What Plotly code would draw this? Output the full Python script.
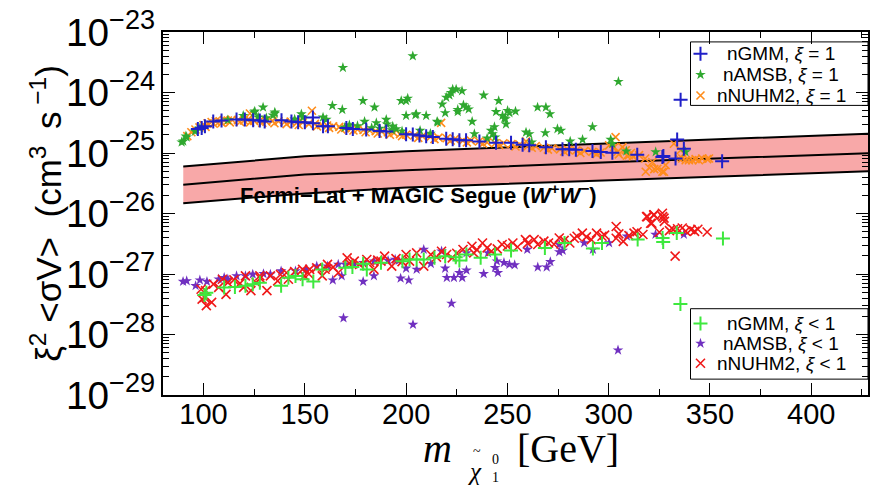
import plotly.graph_objects as go

# ---------------- data ----------------
# Fermi-LAT + MAGIC Segue (W+W-) limit band
band_m = [90, 150, 200, 300, 430]
band_hi = [6.0e-26, 8.8e-26, 1.07e-25, 1.45e-25, 2.1e-25]
band_mid = [3.0e-26, 4.4e-26, 5.2e-26, 7.0e-26, 1.0e-25]
band_lo = [1.48e-26, 2.15e-26, 2.7e-26, 3.5e-26, 5.0e-26]

# nGMM, xi = 1
gmm1_m = [97.2, 99.1, 100.7, 104.8, 108.9, 116.3, 120.4, 124.5, 127.8, 130.2, 138.5, 143.4,
          146.7, 150.0, 154.0, 154.0, 159.0, 161.4, 170.5, 173.7, 180.3, 186.9, 190.2, 200.0,
          203.3, 206.6, 209.9, 213.2, 219.8, 223.0, 226.3, 229.6, 236.2, 244.4, 251.8, 257.5,
          260.8, 269.0, 277.2, 280.5, 283.8, 292.0, 296.1, 301.8, 314.1, 326.5, 333.0, 333.8,
          337.1, 356.0, 335.5, 327.0]
gmm1_sv = [2.5e-25, 2.6e-25, 2.77e-25, 3.31e-25, 3.44e-25, 3.57e-25, 3.57e-25, 3.48e-25, 3.44e-25,
           3.31e-25, 3.48e-25, 3.31e-25, 3.22e-25, 3.22e-25, 3.85e-25, 3.10e-25, 2.77e-25, 2.77e-25,
           2.6e-25, 2.5e-25, 2.45e-25, 2.3e-25, 2.27e-25, 2.05e-25, 2.02e-25, 1.95e-25, 1.9e-25,
           1.83e-25, 1.72e-25, 1.68e-25, 1.63e-25, 1.62e-25, 1.55e-25, 1.48e-25, 1.48e-25, 1.37e-25,
           1.34e-25, 1.25e-25, 1.15e-25, 1.15e-25, 1.13e-25, 1.08e-25, 1.04e-25, 1.01e-25, 9.4e-26,
           8.6e-26, 8.1e-26, 1.67e-25, 1.18e-25, 7.3e-26, 7.6e-25, 8.9e-26]

# nAMSB, xi = 1
amsb1_m = [89.2, 90.0, 91.3, 91.7, 95.8, 98.2, 119.6, 125.0, 129.4, 134.3, 135.2, 148.3, 149.1,
           159.0, 160.6, 163.6, 168.5, 168.8, 169.7, 178.7, 179.5, 184.4, 185.3, 190.2, 190.5,
           193.4, 195.1, 197.6, 200.0, 200.8, 203.3, 200.0, 205.0, 209.9, 206.9, 204.6, 215.3,
           215.6, 217.8, 219.3, 219.8, 221.4, 222.2, 223.0, 224.7, 227.6, 225.5, 228.3, 229.6,
           230.9, 225.5, 232.6, 233.7, 238.3, 245.7, 244.4, 243.6, 242.7, 248.5, 250.1, 247.6,
           249.0, 251.0, 254.0, 249.3, 241.9, 244.0, 259.2, 260.8, 264.9, 269.0, 271.0, 268.7,
           274.7, 276.4, 281.0, 287.1, 292.0, 301.0, 301.8, 304.8, 308.7, 323.2, 337.9,
           112.0, 127.0, 131.0, 145.0, 172.0, 176.0, 183.0, 187.0, 193.0, 198.0, 212.0, 240.0,
           262.0, 125.3, 135.2]
amsb1_sv = [1.51e-25, 1.56e-25, 1.9e-25, 1.83e-25, 2.27e-25, 2.57e-25, 4.15e-25, 4.7e-25, 5.7e-25,
            4.2e-25, 4.5e-25, 4.4e-25, 3.89e-25, 3.89e-25, 3.57e-25, 6.05e-25, 5.2e-25, 2.57e-24,
            2.63e-25, 7.3e-25, 3.31e-25, 5.7e-25, 3.14e-25, 3.57e-25, 3.0e-25, 2.77e-25, 2.5e-25,
            7.3e-25, 7.3e-25, 8.0e-25, 4.0e-24, 4.15e-25, 4.4e-25, 4.15e-25, 2.35e-25, 4.25e-25,
            3.31e-25, 3.22e-25, 6.4e-25, 4.6e-25, 8.3e-25, 9.0e-25, 9.9e-25, 1.13e-24, 1.13e-24,
            1.06e-24, 5.2e-25, 6.2e-25, 5.7e-25, 5.3e-25, 4.8e-25, 3.31e-25, 2.07e-25, 9.0e-25,
            7.3e-25, 4.8e-25, 2.7e-25, 2.07e-25, 3.75e-25, 5.0e-25, 4.15e-25, 3.66e-25, 4.6e-25,
            4.9e-25, 3.0e-25, 2.35e-25, 1.83e-25, 2.2e-25, 2.07e-25, 5.7e-25, 5.7e-25, 4.4e-25,
            2.15e-25, 2.5e-25, 2.35e-25, 1.56e-25, 1.67e-25, 2.7e-25, 1.67e-25, 1.42e-25, 1.51e-24,
            1.07e-25, 1.04e-25, 1.04e-25,
            3.5e-25, 3.9e-25, 3.8e-25, 3.6e-25, 2.9e-25, 2.8e-25, 2.6e-25, 2.55e-25, 2.4e-25,
            2.3e-25, 2.1e-25, 1.75e-25, 1.5e-25, 4.9e-25, 4.7e-25]

# nNUHM2, xi = 1
nuhm1_m = [92, 94, 96, 98, 100, 102, 104, 106, 108, 110, 112, 114, 117, 120, 122, 122.9, 125, 128,
           131, 134, 137, 140, 143, 146, 149, 152, 153.5, 155, 158, 161, 164, 167, 170, 173, 176,
           179, 182, 185, 188, 191, 194, 197, 200, 204, 208, 212, 216, 217.3, 220, 224, 228, 232,
           236, 240, 244, 248, 252, 256, 259.2, 260, 264, 268, 272, 276, 280, 284, 288, 292, 296,
           300.2, 302.7, 303.4, 304.3, 306.8, 308.4, 318.3, 320, 321.5, 322.5, 324, 326.5, 327.3,
           328.1, 332.2, 334.7, 335.5, 336.3, 338, 339.6, 341.3, 342.9, 344.5, 346.2, 348.6, 349.5,
           101, 105, 109, 113, 118, 123, 129, 135, 141, 147, 156, 162, 168, 174, 180, 186, 192,
           198, 206, 214, 222, 230, 238, 246, 254, 262, 270, 278, 286, 294, 318, 310, 305, 309,
           312, 315, 311]
nuhm1_sv = [1.9e-25, 2.2e-25, 2.45e-25, 2.65e-25, 2.9e-25, 3.1e-25, 3.25e-25, 3.35e-25, 3.35e-25,
            3.5e-25, 3.45e-25, 3.55e-25, 3.5e-25, 3.45e-25, 3.6e-25, 4.5e-25, 3.4e-25, 3.5e-25,
            3.3e-25, 3.4e-25, 3.35e-25, 3.25e-25, 3.3e-25, 3.15e-25, 3.2e-25, 3.0e-25, 5.0e-25,
            3.05e-25, 2.9e-25, 2.85e-25, 2.75e-25, 2.7e-25, 2.6e-25, 2.55e-25, 2.45e-25, 2.4e-25,
            2.35e-25, 2.3e-25, 2.25e-25, 2.2e-25, 2.15e-25, 2.05e-25, 2.0e-25, 1.95e-25, 1.9e-25,
            1.85e-25, 1.8e-25, 3.14e-25, 1.75e-25, 1.7e-25, 1.6e-25, 1.6e-25, 1.55e-25, 1.5e-25,
            1.45e-25, 1.45e-25, 1.4e-25, 1.38e-25, 1.56e-25, 1.3e-25, 1.3e-25, 1.22e-25, 1.2e-25,
            1.15e-25, 1.12e-25, 1.1e-25, 1.08e-25, 1.05e-25, 1.02e-25, 1.34e-25, 1.25e-25, 1.83e-25,
            1.04e-25, 1.25e-25, 1.11e-25, 4.9e-26, 5.7e-26, 7.1e-26, 5.4e-26, 5.5e-26, 4.9e-26,
            4.9e-26, 6.3e-26, 1.42e-25, 8.1e-26, 1.11e-25, 8.1e-26, 7.6e-26, 7.6e-26, 7.6e-26,
            7.9e-26, 7.6e-26, 8.1e-26, 7.9e-26, 8.1e-26,
            2.7e-25, 3.05e-25, 3.15e-25, 3.2e-25, 3.25e-25, 3.2e-25, 3.15e-25, 3.1e-25, 3.0e-25,
            2.9e-25, 2.75e-25, 2.6e-25, 2.45e-25, 2.35e-25, 2.2e-25, 2.1e-25, 2.0e-25, 1.9e-25,
            1.78e-25, 1.7e-25, 1.6e-25, 1.5e-25, 1.42e-25, 1.35e-25, 1.28e-25, 1.22e-25, 1.14e-25,
            1.06e-25, 1.0e-25, 9.6e-26, 8.1e-26, 9.2e-26, 9.5e-26, 9.0e-26, 8.8e-26, 9.2e-26,
            1.0e-25]

# nGMM, xi < 1
gmm2_m = [100.5, 101.4, 110.2, 115.5, 120.7, 124.3, 127.8, 138.3, 141.9, 145.4, 148.9, 154.2,
          158.6, 170.0, 173.5, 178.8, 180.6, 187.6, 198.2, 201.7, 205.2, 208.7, 214.0, 219.3,
          224.5, 229.8, 226.3, 236.8, 243.9, 251.8, 268.5, 278.2, 292.2, 296.7, 314.3, 326.6,
          326.9, 333.6, 335.4, 356.4]
gmm2_sv = [4.5e-28, 4.9e-28, 6.0e-28, 6.1e-28, 6.4e-28, 6.8e-28, 7.2e-28, 6.4e-28, 8.7e-28,
           9.3e-28, 8.2e-28, 7.5e-28, 1.19e-27, 1.27e-27, 1.3e-27, 1.48e-27, 1.19e-27, 1.54e-27,
           1.63e-27, 1.74e-27, 1.74e-27, 1.74e-27, 1.85e-27, 1.97e-27, 1.9e-27, 2.1e-27, 1.67e-27,
           1.85e-27, 2.1e-27, 2.44e-27, 2.7e-27, 3.26e-27, 2.63e-27, 3.26e-27, 3.7e-27, 3.94e-27,
           3.39e-27, 4.75e-27, 3.19e-28, 3.85e-27]

# nAMSB, xi < 1
amsb2_m = [89.9, 91.7, 96.1, 98.2, 101.7, 107.5, 110.2, 112.0, 116.3, 120.7, 124.3, 129.6, 133.0,
           138.3, 145.4, 150.6, 155.9, 161.2, 166.5, 170.0, 174.4, 178.8, 184.1, 191.1, 194.6,
           196.4, 163.8, 168.2, 178.8, 184.1, 200.0, 197.3, 201.3, 205.2, 212.2, 219.3, 220.1,
           223.6, 227.7, 226.3, 229.8, 222.4, 238.3, 243.9, 244.8, 245.3, 248.3, 251.0, 253.6,
           265.0, 269.4, 271.2, 275.6, 277.3, 169.1, 203.4, 304.6, 208.7, 217.5, 229.8, 240.4,
           259.8, 275.6, 287.9, 300.2, 309.0, 323.1, 337.1, 292.2]
amsb2_sv = [7.5e-28, 7.7e-28, 6.4e-28, 7.9e-28, 7.5e-28, 8.2e-28, 8.7e-28, 8.2e-28, 9.3e-28,
            9.3e-28, 9.9e-28, 1.01e-27, 9.9e-28, 1.12e-27, 1.12e-27, 1.19e-27, 1.35e-27, 1.35e-27,
            1.44e-27, 1.44e-27, 1.44e-27, 1.54e-27, 1.63e-27, 1.67e-27, 1.74e-27, 1.67e-27,
            7.9e-28, 9.3e-28, 7.5e-28, 9.3e-28, 1.24e-27, 8.5e-28, 7.9e-28, 1.19e-27, 1.48e-27,
            1.24e-27, 8.7e-28, 8.7e-28, 8.7e-28, 1.05e-27, 1.15e-27, 3.26e-28, 1.01e-27, 1.27e-27,
            1.63e-27, 1.05e-27, 1.54e-27, 1.44e-27, 1.41e-27, 1.3e-27, 1.3e-27, 1.59e-27, 2.32e-27,
            2.44e-27, 1.87e-28, 1.46e-28, 5.5e-29, 2.54e-27, 2.38e-27, 2.23e-27, 2.23e-27, 2.54e-27,
            3.07e-27, 3.26e-27, 3.26e-27, 4.2e-27, 4.5e-27, 4.5e-27, 2.54e-27]

# nNUHM2, xi < 1
nuhm2_m = [98.8, 100.5, 101.4, 104.0, 99.3, 101.0, 104.9, 107.5, 111.1, 112.0, 119.8, 120.7, 123.4,
           126.0, 131.3, 133.0, 136.6, 140.9, 141.9, 148.9, 149.8, 155.9, 158.6, 161.2, 166.5,
           170.9, 174.4, 177.0, 180.6, 184.1, 189.4, 192.9, 200.0, 205.2, 208.7, 212.2, 217.5,
           222.8, 228.1, 232.5, 237.7, 242.1, 247.4, 252.7, 258.9, 265.0, 270.3, 275.6, 280.8,
           287.0, 291.4, 296.7, 303.7, 307.2, 312.5, 318.7, 322.2, 321.3, 326.6, 327.5, 331.9,
           332.8, 336.3, 340.6, 342.4, 348.6, 316.9, 303.7, 109.3, 127.8, 152.4, 187.6, 201.7,
           233.4, 263.2, 284.4, 294.0, 319.1, 322.4, 326.5, 320.7, 327.3,
           115, 118, 128, 138, 145, 152, 160, 164, 172, 182, 186, 195, 198, 215, 220, 225, 235,
           240, 245, 250, 255, 260, 268, 273, 278, 283, 289, 298, 305, 310, 314, 325, 330, 334,
           338, 344]
nuhm2_sv = [5.6e-28, 4.1e-28, 3.0e-28, 3.4e-28, 3.85e-28, 5.3e-28, 6.8e-28, 6.0e-28, 4.6e-28,
            7.2e-28, 6.0e-28, 9.3e-28, 5.3e-28, 7.2e-28, 5.3e-28, 9.3e-28, 7.7e-28, 1.05e-27,
            8.2e-28, 1.19e-27, 9.3e-28, 1.27e-27, 9.3e-28, 1.44e-27, 1.05e-27, 1.85e-27, 1.63e-27,
            1.44e-27, 1.74e-27, 1.19e-27, 1.97e-27, 1.35e-27, 2.1e-27, 2.23e-27, 1.35e-27, 2.1e-27,
            2.38e-27, 1.85e-27, 2.54e-27, 2.88e-27, 3.26e-27, 2.38e-27, 3.07e-27, 3.26e-27, 3.7e-27,
            3.07e-27, 3.26e-27, 3.94e-27, 3.26e-27, 4.75e-27, 3.7e-27, 4.2e-27, 6.1e-27, 3.47e-27,
            4.75e-27, 8.9e-27, 9.5e-27, 6.9e-27, 8.9e-27, 7.4e-27, 5.4e-27, 1.97e-27, 5.75e-27,
            5.4e-27, 5.07e-27, 4.95e-27, 4.5e-27, 3.9e-27, 8.2e-28, 9.3e-28, 1.19e-27, 1.63e-27,
            1.63e-27, 2.23e-27, 3.7e-27, 4.2e-27, 4.75e-27, 8.9e-27, 9.5e-27, 1.01e-26, 6.9e-27,
            8.4e-27,
            8.0e-28, 7.0e-28, 8.5e-28, 9.8e-28, 1.1e-27, 1.0e-27, 1.2e-27, 1.3e-27, 1.5e-27,
            1.55e-27, 1.7e-27, 1.8e-27, 1.6e-27, 1.9e-27, 2.1e-27, 2.2e-27, 2.5e-27, 2.7e-27,
            2.6e-27, 2.9e-27, 2.8e-27, 3.2e-27, 3.5e-27, 3.1e-27, 3.6e-27, 3.9e-27, 4.1e-27,
            4.4e-27, 4.6e-27, 4.3e-27, 5.0e-27, 4.9e-27, 5.2e-27, 5.6e-27, 5.1e-27, 5.5e-27]

x_ticks = [100, 150, 200, 250, 300, 350, 400]

legend_top = ["nGMM, <i>ξ</i> = 1", "nAMSB, <i>ξ</i> = 1", "nNUHM2, <i>ξ</i> = 1"]
legend_bottom = ["nGMM, <i>ξ</i> &lt; 1", "nAMSB, <i>ξ</i> &lt; 1", "nNUHM2, <i>ξ</i> &lt; 1"]

# ---------------- styling ----------------
BLUE = "#1f1fc8"
GREEN = "#2fa82f"
ORANGE = "#ff8c1a"
LGREEN = "#3ee83e"
PURPLE = "#7030c0"
RED = "#f01818"
PINK = "#f8a8a8"
SANS = "Liberation Sans, Arial, sans-serif"
SERIF = "Liberation Serif, Times New Roman, serif"

# plot area in canvas pixels
PL, PR, PT, PB = 163, 870, 29, 395
W, H = 874, 489


def px(xp, yp):
    """Canvas pixel position -> paper coordinates of the plot area."""
    return (xp - PL) / (PR - PL), (PB - yp) / (PB - PT)


fig = go.Figure()

# limit band
fig.add_trace(go.Scatter(
    x=band_m + band_m[::-1], y=band_hi + band_lo[::-1], fill="toself",
    fillcolor=PINK, line=dict(width=0), mode="lines", showlegend=False, hoverinfo="skip"))
for ys in (band_hi, band_mid, band_lo):
    fig.add_trace(go.Scatter(x=band_m, y=ys, mode="lines",
                             line=dict(color="black", width=2), showlegend=False,
                             hoverinfo="skip"))

# marker styles: (symbol, colour, size, outline width)
STY = {
    "gmm1": ("cross-thin", BLUE, 10, 2),
    "amsb1": ("star", GREEN, 8, 0),
    "nuhm1": ("x-thin", ORANGE, 8, 1.6),
    "gmm2": ("cross-thin", LGREEN, 10, 2),
    "amsb2": ("star", PURPLE, 8, 0),
    "nuhm2": ("x-thin", RED, 9, 1.6),
}


def marker(key):
    sym, col, size, lw = STY[key]
    line = dict(color=col, width=lw) if lw else dict(width=0)
    return dict(symbol=sym, color=col, size=size, line=line)


series = [
    ("nuhm1", nuhm1_m, nuhm1_sv), ("amsb1", amsb1_m, amsb1_sv), ("gmm1", gmm1_m, gmm1_sv),
    ("amsb2", amsb2_m, amsb2_sv), ("nuhm2", nuhm2_m, nuhm2_sv), ("gmm2", gmm2_m, gmm2_sv),
]
for key, xs, ys in series:
    fig.add_trace(go.Scatter(x=xs, y=ys, mode="markers", marker=marker(key),
                             showlegend=False, name=key))

# legend boxes (symbols on an overlay axis spanning the plot area in [0, 1])
boxes = [
    ((692, 39, 870, 103), [51, 72, 93], ["gmm1", "amsb1", "nuhm1"], legend_top),
    ((692, 308, 870, 379), [323, 343, 363], ["gmm2", "amsb2", "nuhm2"], legend_bottom),
]
for (x0, y0, x1, y1), rows, keys, texts in boxes:
    a0, b0 = px(x0, y1)
    a1, b1 = px(x1, y0)
    fig.add_shape(type="rect", xref="paper", yref="paper", x0=a0, y0=b0, x1=a1, y1=b1,
                  line=dict(color="black", width=1), fillcolor="white", layer="below")
    for yr, key, txt in zip(rows, keys, texts):
        mx, my = px(702, yr)
        fig.add_trace(go.Scatter(x=[mx], y=[my], mode="markers", marker=marker(key),
                                 xaxis="x2", yaxis="y2", showlegend=False,
                                 hoverinfo="skip"))
        tx, ty = px(783, yr)
        fig.add_annotation(x=tx, y=ty, xref="paper", yref="paper", xanchor="center",
                           yanchor="middle", showarrow=False, text=txt,
                           font=dict(family=SANS, size=19, color="black"))

fig.update_layout(
    width=W, height=H,
    margin=dict(l=PL, r=W - PR, t=PT, b=H - PB),
    paper_bgcolor="white", plot_bgcolor="white",
    showlegend=False,
    xaxis=dict(
        range=[80, 428], tickvals=x_ticks, ticks="inside", ticklen=12, tickwidth=1,
        tickcolor="black", showline=True, linecolor="black", linewidth=1.5, mirror="ticks",
        showgrid=False, zeroline=False, ticklabelstandoff=-8,
        tickfont=dict(family=SANS, size=29, color="black"),
        minor=dict(dtick=25, tick0=75, ticks="inside", ticklen=6, tickcolor="black",
                   showgrid=False),
    ),
    yaxis=dict(
        type="log", range=[-29, -23], dtick=1, exponentformat="power", ticks="inside",
        ticklen=12, tickwidth=1, tickcolor="black", showline=True, linecolor="black",
        linewidth=1.5, mirror="ticks", showgrid=False, zeroline=False,
        tickfont=dict(family=SANS, size=31, color="black"),
        minor=dict(dtick="D1", ticks="inside", ticklen=6, tickcolor="black", showgrid=False),
    ),
    xaxis2=dict(overlaying="x", range=[0, 1], visible=False, fixedrange=True),
    yaxis2=dict(overlaying="y", range=[0, 1], visible=False, fixedrange=True),
)


def label(xp, yp, text, family, size, **kw):
    x, y = px(xp, yp)
    fig.add_annotation(x=x, y=y, xref="paper", yref="paper", xanchor="center",
                       yanchor="middle", showarrow=False, text=text,
                       font=dict(family=family, size=size, color="black"), **kw)


# band label
label(419, 192, "<b>Fermi−Lat + MAGIC Segue (<i>W</i><sup>+</sup><i>W</i><sup>−</sup>)</b>",
      SANS, 22)

# y-axis title
label(45, 212, "ξ<sup>2</sup> &lt;σV&gt;  (cm<sup>3 </sup> s<sup> −1</sup>)", SANS, 35,
      textangle=-90)

# x-axis title: m, chi with tilde and stacked 0 / 1, [GeV]
label(438, 449, "<i>m</i>", SERIF, 40)
label(476, 472, "<i>χ</i>", SERIF, 25)
label(478, 452, "~", SERIF, 14)
label(496, 460, "0", SERIF, 14)
label(496, 478, "1", SERIF, 14)
label(569, 449, "[GeV]", SERIF, 40)

fig.write_html("out.html")
